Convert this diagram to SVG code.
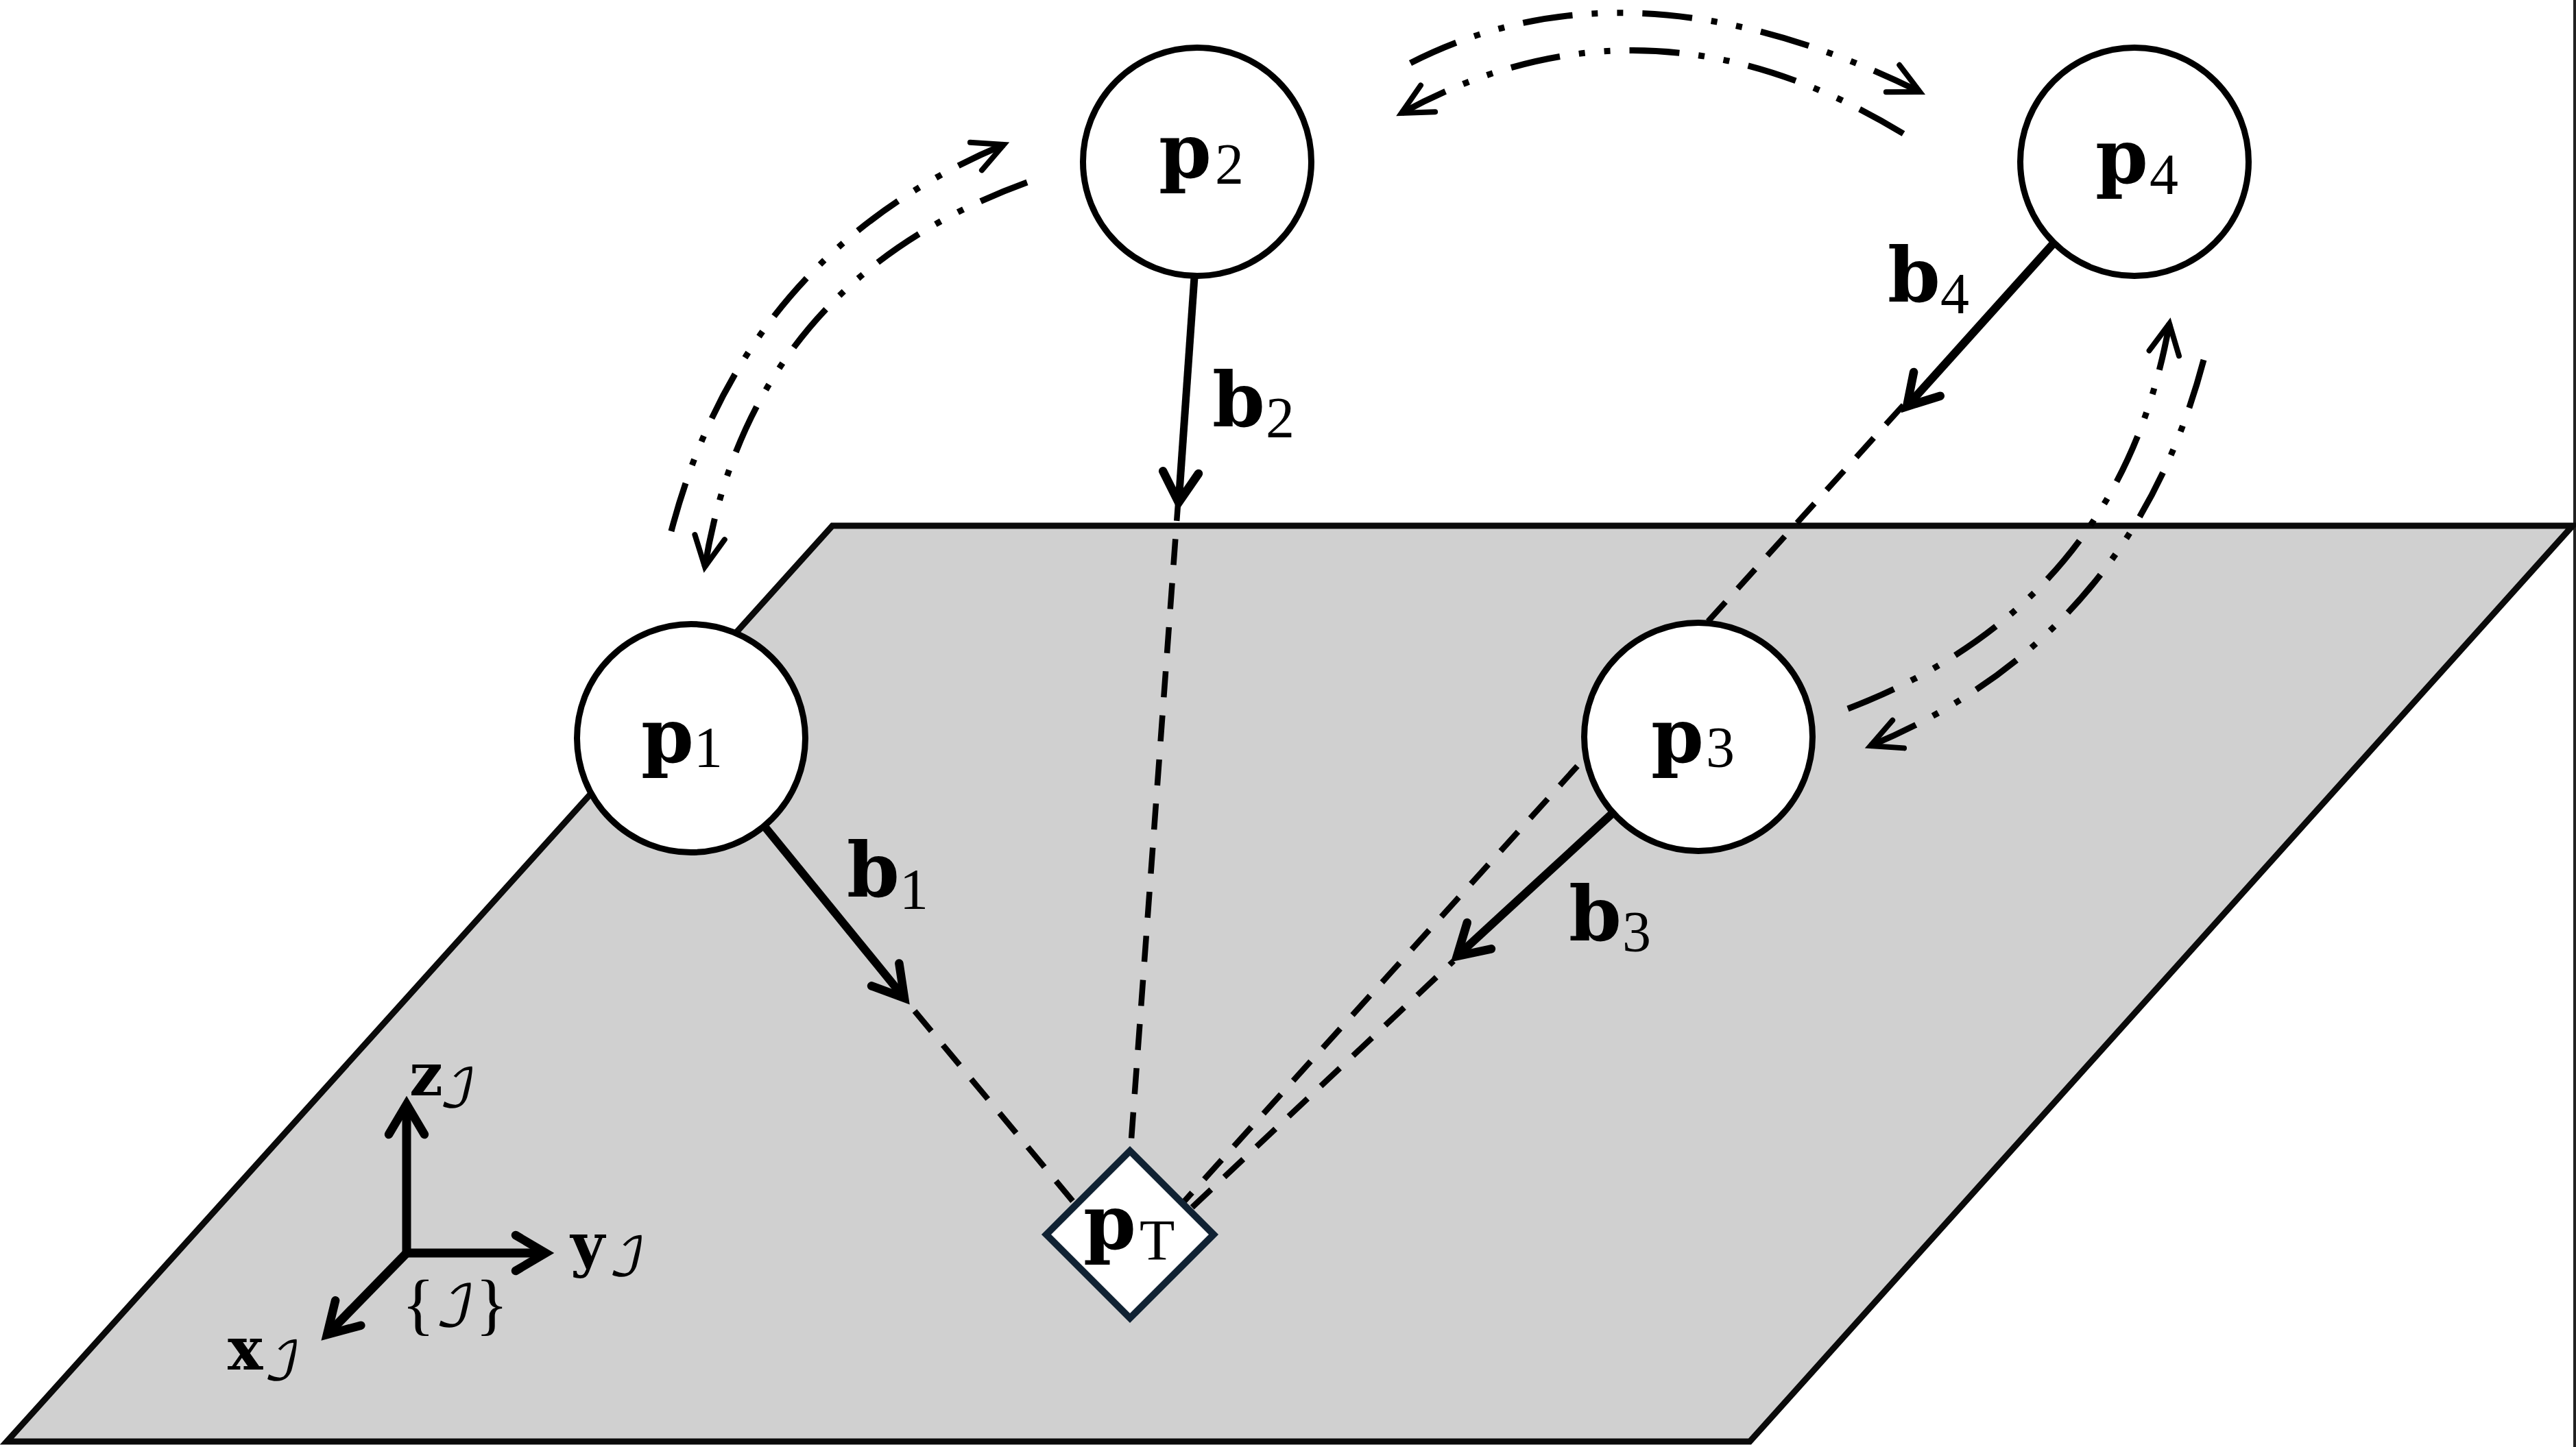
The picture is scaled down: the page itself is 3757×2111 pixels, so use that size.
<svg xmlns="http://www.w3.org/2000/svg" width="3757" height="2111" viewBox="0 0 3757 2111">
<style>
.bg{fill:#fff}
.plane{fill:#d0d0d0;stroke:#0a0a0a;stroke-width:9;stroke-linejoin:miter}
.frame{stroke:#222;stroke-width:4;fill:none}
.node{fill:#fff;stroke:#000;stroke-width:9}
.target{fill:#fff;stroke:#102233;stroke-width:10}
.vec{stroke:#000;stroke-width:12;fill:none;marker-end:url(#bold)}
.axis{stroke:#000;stroke-width:13;fill:none;marker-end:url(#bold)}
.dash{stroke:#000;stroke-width:8.5;fill:none;stroke-dasharray:38 26.5}
.link{stroke:#000;stroke-width:9;fill:none;stroke-dasharray:73 28 9 28 9 28;marker-end:url(#thin)}
text{font-family:"DejaVu Serif","Liberation Serif",serif;fill:#000}
.m{font-weight:700;font-size:110px}
.s{font-family:"Liberation Serif",serif;font-weight:400;font-size:84px}
.am{font-weight:700;font-size:86px}
.ai{font-family:"DejaVu Math TeX Gyre","DejaVu Serif",serif;font-weight:400;font-size:76px}
.br{font-family:"Liberation Serif",serif;font-weight:400;font-size:100px}
</style>
<defs>
<marker id="bold" markerUnits="userSpaceOnUse" orient="auto" overflow="visible" markerWidth="1" markerHeight="1" refX="0" refY="0"><path d="M-44,-26L0,0L-44,26" fill="none" stroke="#000" stroke-width="12.5" stroke-linecap="round" stroke-miterlimit="10"/></marker>
<marker id="thin" markerUnits="userSpaceOnUse" orient="auto" overflow="visible" markerWidth="1" markerHeight="1" refX="0" refY="0"><path d="M-44,-22L0,0L-44,22" fill="none" stroke="#000" stroke-width="8" stroke-linecap="round" stroke-miterlimit="10"/></marker>
</defs>
<rect class="bg" width="3757" height="2111"/>
<line class="frame" x1="3755" y1="0" x2="3755" y2="2111"/>
<polygon id="plane" class="plane" points="1214,767 3752,767 2552,2103 10,2103"/>
<g id="connectors">
<line class="dash" x1="1334" y1="1475" x2="1566" y2="1754"/>
<line class="dash" x1="1719" y1="722" x2="1650" y2="1662"/>
<line class="dash" x1="2776" y1="591" x2="1725" y2="1755"/>
<line class="dash" style="stroke-dashoffset:30" x1="2120" y1="1402" x2="1738" y2="1762"/>
<line class="vec" x1="1117" y1="1208" x2="1319" y2="1456"/>
<line class="vec" style="stroke-width:11" x1="1742" y1="404" x2="1719" y2="733"/>
<line class="vec" x1="2350" y1="1188" x2="2125" y2="1395"/>
<line class="vec" x1="2995" y1="355" x2="2781" y2="593"/>
<path class="link" d="M979,775Q1085,370 1464,211"/>
<path class="link" d="M1498,266Q1096,412 1028,827"/>
<path class="link" d="M2057,92Q2380,-73 2800,134"/>
<path class="link" d="M2776,195Q2404,-32 2044,165"/>
<path class="link" d="M3214,525Q3107,930 2728,1088"/>
<path class="link" d="M2695,1034Q3091,882 3164,472"/>
</g>
<g id="axes">
<line class="axis" x1="593" y1="1834" x2="593" y2="1611"/>
<line class="axis" x1="587" y1="1828" x2="796" y2="1828"/>
<line class="axis" x1="597" y1="1824" x2="477" y2="1947"/>
<text x="597" y="1598"><tspan class="am">z</tspan><tspan class="ai" x="640" y="1614">ℐ</tspan></text>
<text x="832" y="1846"><tspan class="am">y</tspan><tspan class="ai" x="887" y="1860">ℐ</tspan></text>
<text x="332" y="1998"><tspan class="am">x</tspan><tspan class="ai" x="384" y="2012">ℐ</tspan></text>
<text class="br" x="586" y="1936">{<tspan class="ai" dy="-2" style="font-size:82px">ℐ</tspan><tspan dy="2">}</tspan></text>
</g>
<g id="p1"><circle class="node" cx="1008" cy="1077" r="166.5"/><text x="935" y="1112"><tspan class="m">p</tspan><tspan class="s" x="1012" y="1119">1</tspan></text></g>
<g id="p2"><circle class="node" cx="1746" cy="236" r="166.5"/><text x="1690" y="259"><tspan class="m">p</tspan><tspan class="s" x="1772" y="268">2</tspan></text></g>
<g id="p3"><circle class="node" cx="2477" cy="1075" r="166.5"/><text x="2408" y="1112"><tspan class="m">p</tspan><tspan class="s" x="2488" y="1119">3</tspan></text></g>
<g id="p4"><circle class="node" cx="3113" cy="236" r="166.5"/><text x="3056" y="267"><tspan class="m">p</tspan><tspan class="s" x="3135" y="283">4</tspan></text></g>
<g id="pT"><polygon class="target" points="1648,1679 1770,1801 1648,1923 1526,1801"/><text x="1580" y="1822"><tspan class="m">p</tspan><tspan class="s" x="1662" y="1838">T</tspan></text></g>
<g id="labels">
<text x="1235" y="1308"><tspan class="m">b</tspan><tspan class="s" x="1312" y="1326">1</tspan></text>
<text x="1768" y="622"><tspan class="m">b</tspan><tspan class="s" x="1846" y="638">2</tspan></text>
<text x="2288" y="1372"><tspan class="m">b</tspan><tspan class="s" x="2366" y="1388">3</tspan></text>
<text x="2753" y="440"><tspan class="m">b</tspan><tspan class="s" x="2830" y="457">4</tspan></text>
</g>
</svg>
